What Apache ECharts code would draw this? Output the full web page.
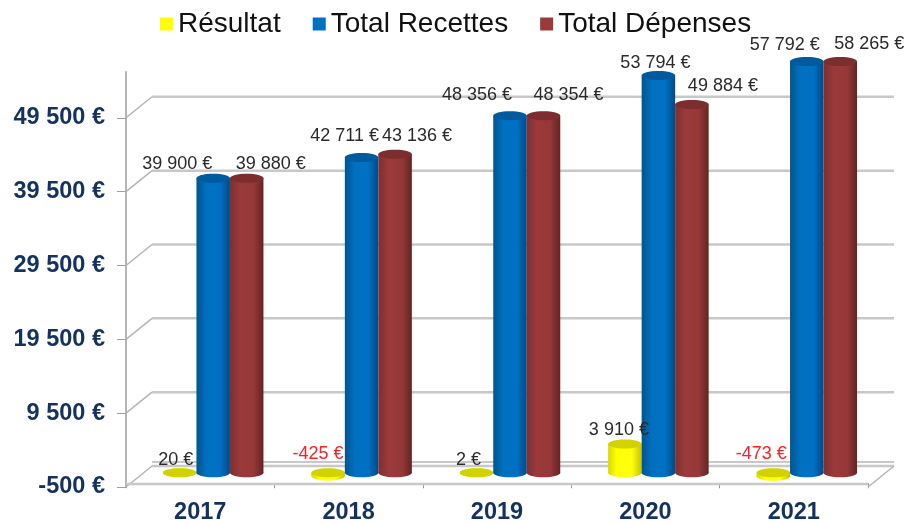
<!DOCTYPE html>
<html><head><meta charset="utf-8">
<style>html,body{margin:0;padding:0;background:#fff}#c{width:906px;height:522px}</style>
<script src="https://cdn.jsdelivr.net/npm/echarts@6/dist/echarts.min.js"></script>
</head><body><div id="c"></div>
<script>
const years = ['2017','2018','2019','2020','2021'];
const resultat = [20,-425,2,3910,-473];
const recettes = [39900,42711,48356,53794,57792];
const depenses = [39880,43136,48354,49884,58265];
const yTicks = [-500,9500,19500,29500,39500,49500];
const axisMin = -500, axisMax = 55700;

// style only: label nudges (px) relative to each cylinder's cap
const nudgeRes = [[-4,-13],[-10,-19],[-8,-13],[-6,-14],[-12,-19]];
const nudgeRec = [[-36,-14],[-17,-21],[-33,-21],[-3,-13],[-22,-16]];
const nudgeDep = [[24,-14],[22,-18],[25,-21],[31,-18],[29,-17]];

const BAR_W = 33.5, RY = 4.5, GROUP_DX = 13, MID_DY = -10.5, DEPTH_X = 26, DEPTH_Y = -21;
const chart = echarts.init(document.getElementById('c'));
const G = (stops)=>new echarts.graphic.LinearGradient(0,0,1,0,stops.map((c,i)=>({offset:c[0],color:c[1]})));
const styles = [
 {body:[[0,'#d8d800'],[.25,'#ffff00'],[.7,'#ffff10'],[1,'#c4c400']],cap:'#d2d200'},
 {body:[[0,'#00558f'],[.3,'#0070c0'],[.7,'#0070c4'],[1,'#004a86']],cap:'#005a9e'},
 {body:[[0,'#7f2e2e'],[.3,'#9a3a3a'],[.7,'#973838'],[1,'#632424']],cap:'#7d2d2d'}
];
function cyl(idx){
 return function(params,api){
  const cat=api.value(0), v=Math.min(api.value(1),axisMax);
  const cx=api.coord([cat,0])[0]+GROUP_DX+(idx-1)*BAR_W;
  const y0=api.coord([cat,0])[1]+MID_DY, yv=api.coord([cat,v])[1]+MID_DY;
  const top=Math.min(y0,yv), bot=Math.max(y0,yv), s=styles[idx], rx=BAR_W/2;
  return {type:'group',children:[
   {type:'ellipse',shape:{cx,cy:bot,rx,ry:RY},style:{fill:G(s.body)}},
   {type:'rect',shape:{x:cx-rx,y:top,width:BAR_W,height:bot-top},style:{fill:G(s.body)}},
   {type:'ellipse',shape:{cx,cy:top,rx,ry:RY},style:{fill:s.cap}}
  ]};
 };
}
const fmt=v=>{const a=Math.abs(v).toString().replace(/\B(?=(\d{3})(?!\d))/g,' ');return (v<0?'-':'')+a+' €';};
const labelData=[];
[resultat,recettes,depenses].forEach((arr,s)=>arr.forEach((v,i)=>labelData.push([i,v,s])));
const nudges=[nudgeRes,nudgeRec,nudgeDep];
function renderLabel(params,api){
 const cat=api.value(0), raw=api.value(1), s=api.value(2);
 const v=Math.min(raw,axisMax), n=nudges[s][cat];
 const cx=api.coord([cat,0])[0]+GROUP_DX+(s-1)*BAR_W;
 const y0=api.coord([cat,0])[1]+MID_DY, yv=api.coord([cat,v])[1]+MID_DY;
 return {type:'text',style:{x:cx+n[0],y:Math.min(y0,yv)+n[1],text:fmt(raw),align:'center',verticalAlign:'middle',
  font:'18px "Liberation Sans"',fill:raw<0?'#ff2020':'#2a2a2a'}};
}
function renderGrid(params,api){
 const v=api.value(0);
 const p=api.coord([0,v]);
 const x0=params.coordSys.x, x1=x0+params.coordSys.width;
 const line=(a,b,c,d,w,col)=>({type:'line',shape:{x1:a,y1:b,x2:c,y2:d},style:{stroke:col||'#c8c8c8',lineWidth:w||2}});
 const y=p[1];
 const kids=[line(x0,y,x0+DEPTH_X,y+DEPTH_Y,1.5,'#b4b4b4'),line(x0+DEPTH_X,y+DEPTH_Y,x1+DEPTH_X,y+DEPTH_Y,2.5)];
 if(v===axisMin){
  kids.push(line(x0+DEPTH_X,y+DEPTH_Y-4,x1+DEPTH_X,y+DEPTH_Y-4,2));
  kids.push(line(x0,y-3,x1,y-3,2.5));
  kids.push(line(x1,y,x1+DEPTH_X,y+DEPTH_Y,1.5,'#b4b4b4'));
 }
 return {type:'group',children:kids};
}
const axisFont={fontFamily:'Liberation Sans',fontWeight:'bold',fontSize:23.5,color:'#14325f'};
const mk=(name,data,idx)=>({name,type:'custom',coordinateSystem:'cartesian2d',z:3,clip:false,
 renderItem:cyl(idx),itemStyle:{color:styles[idx].body[1][1]},encode:{x:0,y:1},
 data:data.map((v,i)=>[i,v])});
chart.setOption({
 animation:false,
 tooltip:{show:false},
 grid:{left:126,right:38,top:72,bottom:35,containLabel:false,outerBoundsMode:'none'},
 legend:{data:['Résultat','Total Recettes','Total Dépenses'],left:155,top:5,icon:'rect',itemWidth:13,itemHeight:13,itemGap:32,selectedMode:false,
  textStyle:{fontFamily:'Liberation Sans',fontSize:28,color:'#111',padding:[0,0,0,0]}},
 xAxis:{type:'category',data:years,boundaryGap:true,
  axisLine:{lineStyle:{color:'#b4b4b4',width:2}},
  axisTick:{show:true,length:5,alignWithLabel:false,lineStyle:{color:'#9a9a9a',width:1}},
  axisLabel:{...axisFont,margin:14},splitLine:{show:false}},
 yAxis:{type:'value',min:axisMin,max:axisMax,interval:500,
  axisLine:{show:true,lineStyle:{color:'#b4b4b4',width:2}},
  axisTick:{show:true,length:9,customValues:yTicks,lineStyle:{color:'#a0a0a0',width:1}},
  axisLabel:{...axisFont,margin:21,customValues:yTicks,
   formatter:v=>fmt(v)},splitLine:{show:false}},
 series:[
  {type:'custom',name:'grid',z:1,clip:false,coordinateSystem:'cartesian2d',renderItem:renderGrid,encode:{y:0},silent:true,data:yTicks.map(v=>[v])},
  mk('Résultat',resultat,0),
  mk('Total Recettes',recettes,1),
  mk('Total Dépenses',depenses,2),
  {type:'custom',name:'labels',z:5,clip:false,coordinateSystem:'cartesian2d',renderItem:renderLabel,encode:{x:0,y:1},silent:true,data:labelData}
 ]
});
</script></body></html>
